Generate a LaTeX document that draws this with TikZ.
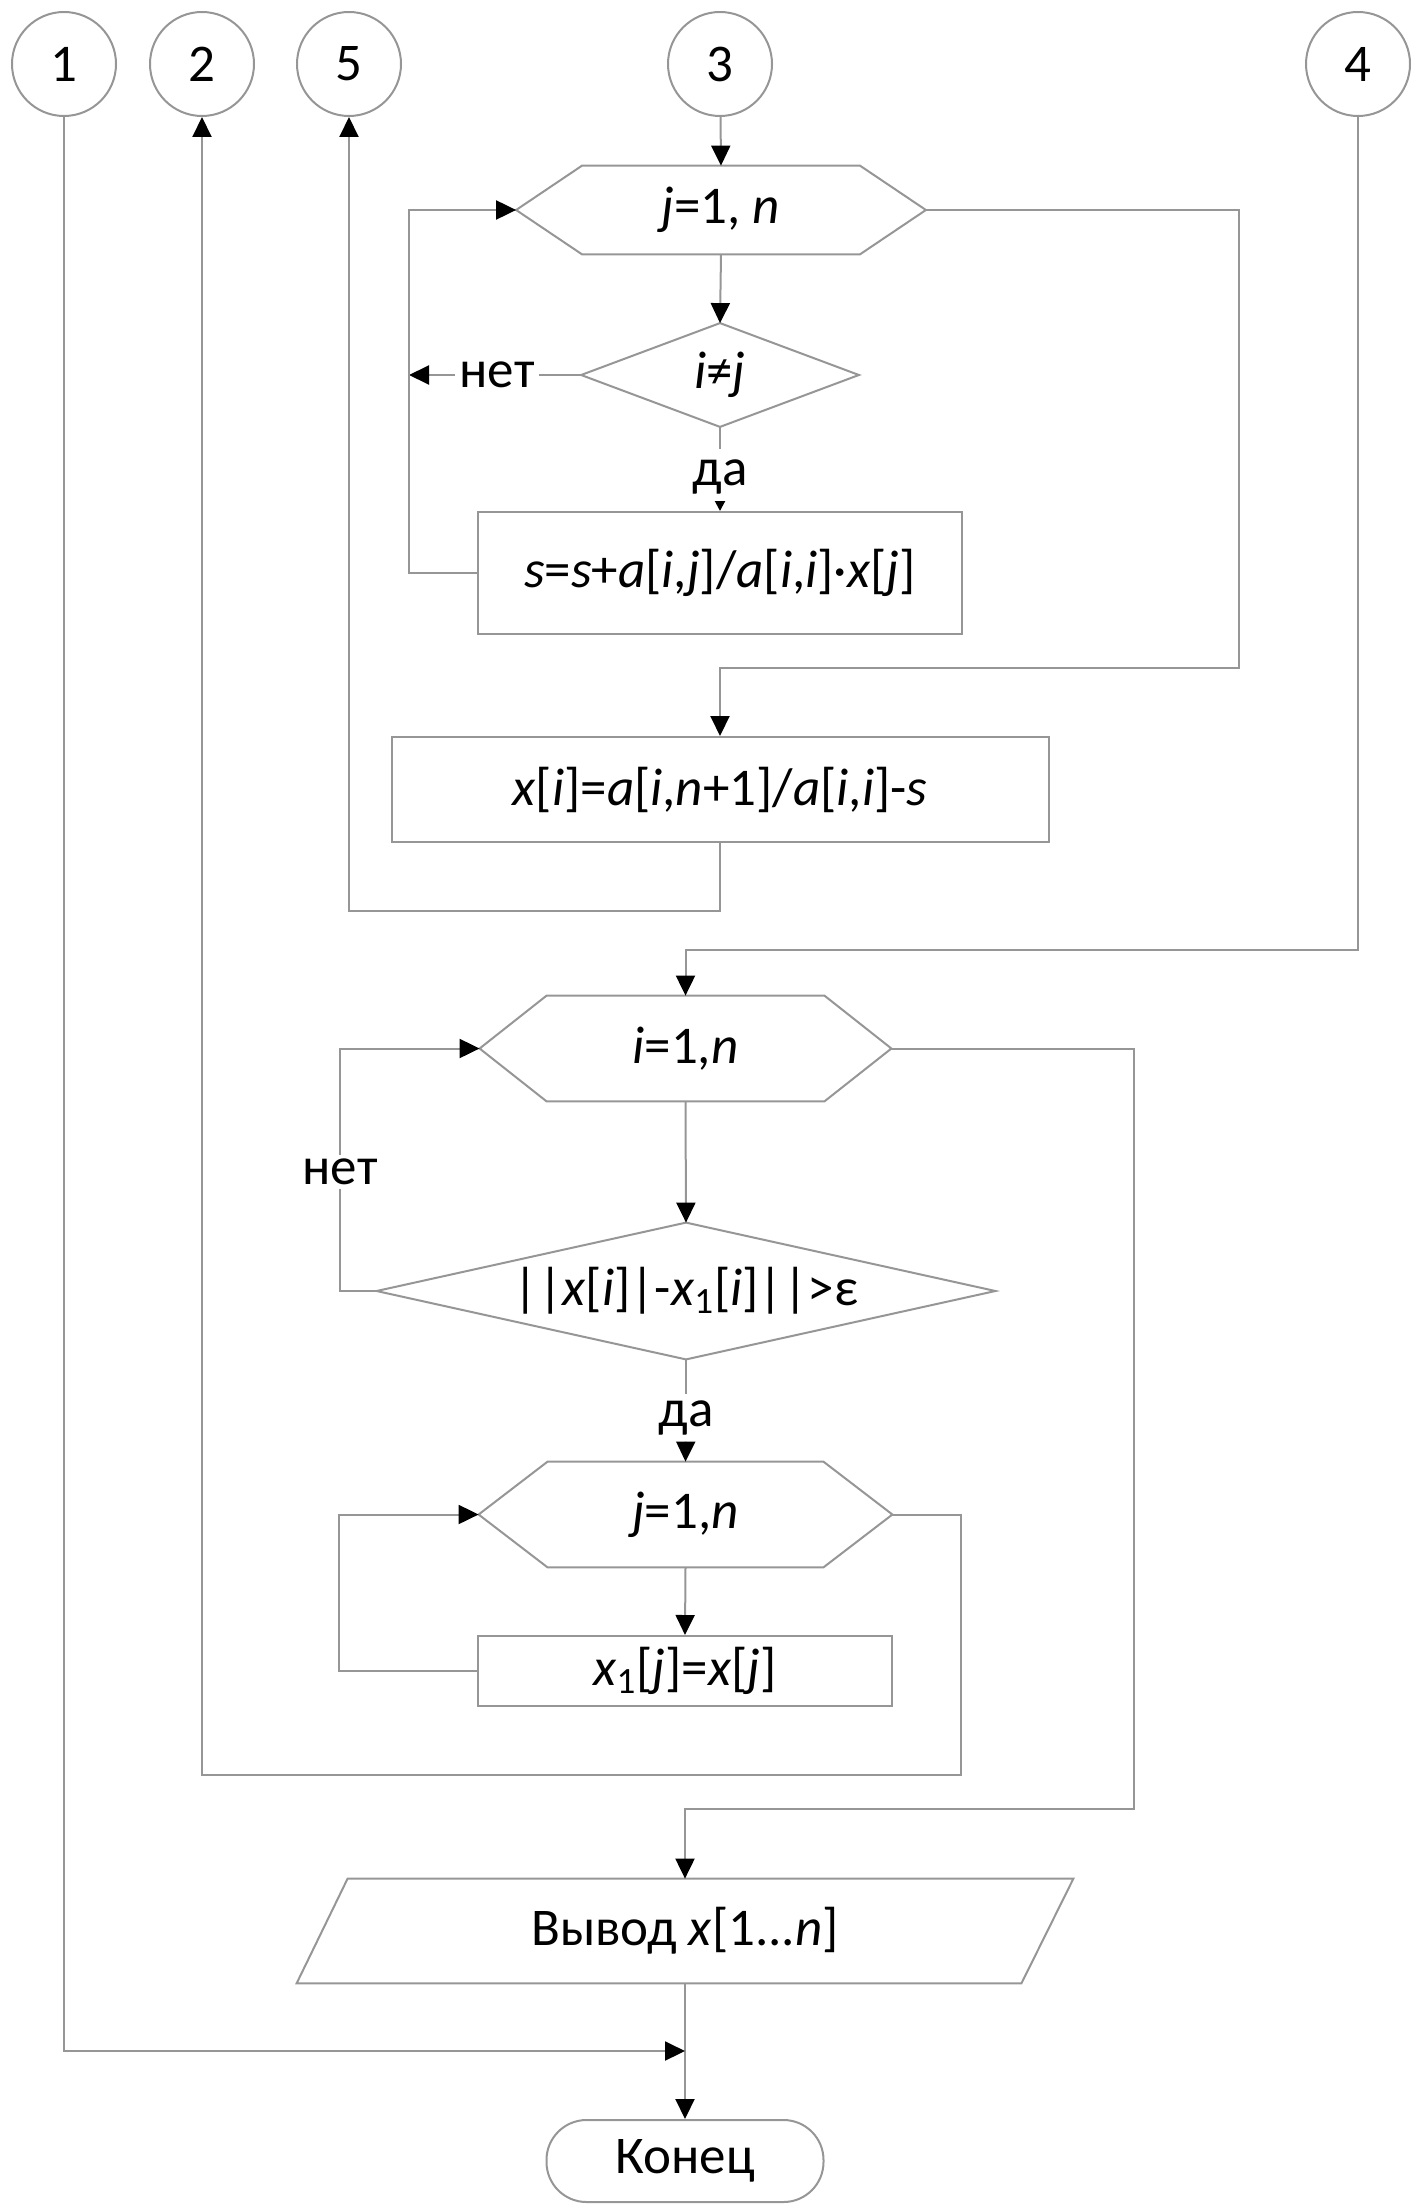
\documentclass[tikz,border=0pt]{standalone}
\usepackage{fontspec}
\setmainfont{Carlito}
\usetikzlibrary{arrows.meta,calc}
\definecolor{lc}{RGB}{150,150,150}
\newcommand{\hexout}[2]{\draw[shapeline] (#1.west) -- ($(#1.north west)+(#2,0)$) -- ($(#1.north east)+(-#2,0)$) -- (#1.east) -- ($(#1.south east)+(-#2,0)$) -- ($(#1.south west)+(#2,0)$) -- cycle;}
\newcommand{\diaout}[1]{\draw[shapeline] (#1.north) -- (#1.east) -- (#1.south) -- (#1.west) -- cycle;}
\tikzset{
  shapeline/.style={draw=lc, line width=1pt},
  conn/.style={draw=lc, line width=1pt},
  arr/.style={conn, -{Triangle[length=10pt,width=9.5pt,color=black]}},
  smallarr/.style={conn, -{Triangle[length=5pt,width=5pt,color=black]}},
  txt/.style={font=\fontsize{26.5}{31}\selectfont, text=black},
  conncircle/.style={circle, draw=lc, line width=1pt, minimum size=52pt, inner sep=0pt, txt},
  boxnode/.style={rectangle, draw=lc, line width=1pt, inner sep=0pt, txt},
  bare/.style={rectangle, draw=none, inner sep=0pt, txt},
  lbl/.style={rectangle, draw=none, inner sep=2pt, txt},
  term/.style={rectangle, rounded corners=20pt, draw=lc, line width=1pt, inner sep=0pt, txt}
}
\begin{document}
\begin{tikzpicture}[x=0.5pt,y=-0.5pt]
\useasboundingbox (0,0) rectangle (1410,2204);
% connector circles
\node[conncircle] (c1) at (64,64) {1};
\node[conncircle] (c2) at (202,64) {2};
\node[conncircle] (c5) at (349,64) {5};
\node[conncircle] (c3) at (720,64) {3};
\node[conncircle] (c4) at (1358,64) {4};
% upper part
\node[bare, minimum width=204.5pt, minimum height=44pt] (h1) at (721,210) {\textit{j}=1, \textit{n}};
\hexout{h1}{66}
\node[bare, minimum width=138.5pt, minimum height=51.5pt] (d1) at (720,375) {\textit{i}≠\textit{j}};
\diaout{d1}
\node[boxnode, minimum width=242pt, minimum height=61pt] (b1) at (720,573) {\textit{s}=\textit{s}+\textit{a}[\textit{i},\textit{j}]/\textit{a}[\textit{i},\textit{i}]·\textit{x}[\textit{j}]};
\node[boxnode, minimum width=328.5pt, minimum height=52.5pt] (b2) at (720,789.5) {\textit{x}[\textit{i}]=\textit{a}[\textit{i},\textit{n}+1]/\textit{a}[\textit{i},\textit{i}]-\textit{s}};
\node[lbl] (n1) at (497,375) {нет};
\node[lbl, inner sep=5pt] (da1) at (720,477) {да};
\coordinate (L1) at (409,210);
\coordinate (R1) at (1239,668);
\coordinate (R2) at (349,911);
% lower part
\node[bare, minimum width=205.5pt, minimum height=52.5pt] (h2) at (685.5,1048.5) {\textit{i}=1,\textit{n}};
\hexout{h2}{67}
\node[bare, minimum width=309pt, minimum height=68pt] (d2) at (686,1291) {||\textit{x}[\textit{i}]|-\textit{x}\textsubscript{1}[\textit{i}]||>ε};
\diaout{d2}
\node[bare, minimum width=206.5pt, minimum height=52.5pt] (h3) at (685.5,1514.5) {\textit{j}=1,\textit{n}};
\hexout{h3}{69}
\node[boxnode, minimum width=207pt, minimum height=35pt] (b3) at (685,1671) {\textit{x}\textsubscript{1}[\textit{j}]=\textit{x}[\textit{j}]};
\node[bare, minimum width=388pt, minimum height=52pt] (p) at (685,1931) {Вывод \textit{x}[1...\textit{n}]};
\draw[shapeline] (p.south west) -- ($(p.north west)+(51,0)$) -- (p.north east) -- ($(p.south east)+(-52,0)$) -- cycle;
\node[term, minimum width=138.5pt, minimum height=41pt] (t) at (685,2161) {Конец};
\node[lbl] (n2) at (340,1172) {нет};
\node[lbl, inner sep=3pt] (da2) at (686,1418) {да};
\coordinate (R3) at (1358,950);
\coordinate (L2) at (340,1291);
\coordinate (L3) at (339,1671);
\coordinate (R4) at (961,1775);
\coordinate (R5) at (1134,1809);
\coordinate (J) at (685,2051);
% connectors upper
\draw[arr] (c3) -- (h1.north);
\draw[arr] (h1.south) -- (d1.north);
\draw[conn] (d1.west) -- (n1);
\draw[arr] (n1) -- (n1 -| L1);
\draw[conn] (d1.south) -- (da1);
\draw[smallarr] (da1) -- (b1.north);
\draw[arr] (b1.west) -| (L1) -- (h1.west);
\draw[arr] (h1.east) -| (R1) -| (b2.north);
\draw[arr] (b2.south) |- (R2) -- (c5.south);
% connectors lower
\draw[arr] (c4.south) -- (R3) -| (h2.north);
\draw[arr] (h2.south) -- (d2.north);
\draw[conn] (d2.west) -- (L2) -- (n2);
\draw[arr] (n2) -- (n2 |- h2.west) -- (h2.west);
\draw[conn] (d2.south) -- (da2);
\draw[arr] (da2) -- (h3.north);
\draw[arr] (h3.south) -- (b3.north);
\draw[arr] (b3.west) -- (L3) |- (h3.west);
\draw[arr] (h3.east) -| (R4) -| (c2.south);
\draw[arr] (h2.east) -| (R5) -| (p.north);
\draw[arr] (p.south) -- (t.north);
\draw[arr] (c1.south) |- (J);
\end{tikzpicture}
\end{document}
